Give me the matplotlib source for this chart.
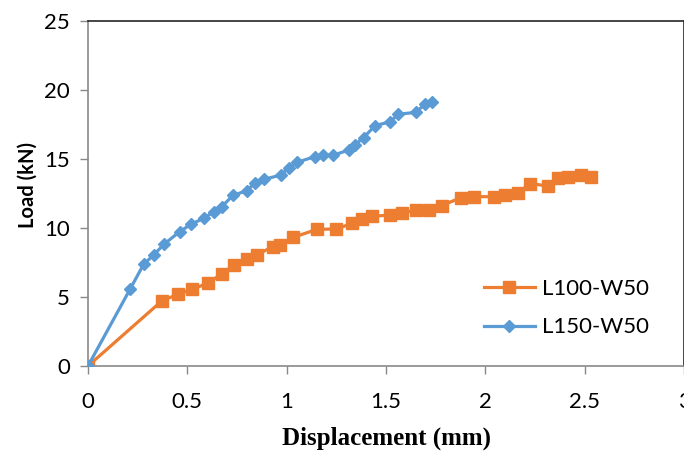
import matplotlib
matplotlib.use('Agg')
import matplotlib.pyplot as plt

# L100-W50 (orange squares)
disp_l100 = [0, 0.371, 0.451, 0.522, 0.602, 0.673, 0.733, 0.80, 0.85, 0.931, 0.964,
             1.032, 1.152, 1.25, 1.33, 1.38, 1.428, 1.521, 1.579, 1.649, 1.716, 1.78,
             1.877, 1.944, 2.042, 2.099, 2.166, 2.226, 2.317, 2.367, 2.414, 2.48, 2.53]
load_l100 = [0, 4.71, 5.19, 5.55, 5.99, 6.67, 7.30, 7.75, 8.07, 8.65, 8.79,
             9.32, 9.90, 9.93, 10.34, 10.63, 10.84, 10.94, 11.09, 11.30, 11.28, 11.62,
             12.20, 12.27, 12.27, 12.39, 12.56, 13.22, 13.04, 13.62, 13.72, 13.85, 13.70]

# L150-W50 (blue diamonds)
disp_l150 = [0, 0.213, 0.28, 0.33, 0.384, 0.461, 0.518, 0.582, 0.632, 0.673, 0.73,
             0.80, 0.84, 0.887, 0.971, 1.011, 1.052, 1.142, 1.183, 1.233, 1.313, 1.345,
             1.387, 1.444, 1.521, 1.561, 1.649, 1.696, 1.733]
load_l150 = [0, 5.6, 7.37, 8.04, 8.84, 9.73, 10.27, 10.70, 11.16, 11.54, 12.37,
             12.70, 13.28, 13.53, 13.84, 14.37, 14.76, 15.17, 15.29, 15.27, 15.65, 16.05,
             16.54, 17.41, 17.70, 18.24, 18.38, 18.96, 19.15]

xticks = [0, 0.5, 1, 1.5, 2, 2.5, 3]
xticklabels = ['0', '0.5', '1', '1.5', '2', '2.5', '3']
yticks = [0, 5, 10, 15, 20, 25]

plt.rcParams['font.family'] = ['Lato', 'DejaVu Sans']

fig = plt.figure(figsize=(6.84, 4.53), dpi=100)
ax = fig.add_axes([88 / 684, 87 / 453, 596 / 684, 345 / 453])

ax.plot(disp_l100, load_l100, color='#ED7D31', lw=2.3, marker='s', ms=8.5,
        label='L100-W50', zorder=3)
ax.plot(disp_l150, load_l150, color='#5B9BD5', lw=2.3, marker='D', ms=6.5,
        label='L150-W50', zorder=4)

ax.set_xlim(0, 3)
ax.set_ylim(0, 25)
ax.set_xticks(xticks)
ax.set_xticklabels(xticklabels)
ax.set_yticks(yticks)

for side in ['left', 'bottom']:
    ax.spines[side].set_color('#898989')
    ax.spines[side].set_linewidth(1.2)
for side in ['top', 'right']:
    ax.spines[side].set_color('#262626')
    ax.spines[side].set_linewidth(1.2)

ax.tick_params(axis='x', direction='out', length=6, width=1, color='#898989',
               labelsize=16, pad=13)
ax.tick_params(axis='y', direction='out', length=6, width=1, color='#898989',
               labelsize=16, pad=7)

ax.set_xlabel('Displacement (mm)', family='Liberation Serif', fontweight='bold',
              fontsize=18)
ax.xaxis.set_label_coords(0.5, -0.175)
ax.set_ylabel('Load (kN)', fontweight='bold', fontsize=14.5)
ax.yaxis.set_label_coords(-0.084, 0.525)

ax.legend(loc='center left', bbox_to_anchor=(0.664, 0.168), frameon=False,
          fontsize=16, handlelength=2.3, handletextpad=0.3, labelspacing=0.85,
          borderaxespad=0, borderpad=0)

fig.savefig('out.png', dpi=100)
